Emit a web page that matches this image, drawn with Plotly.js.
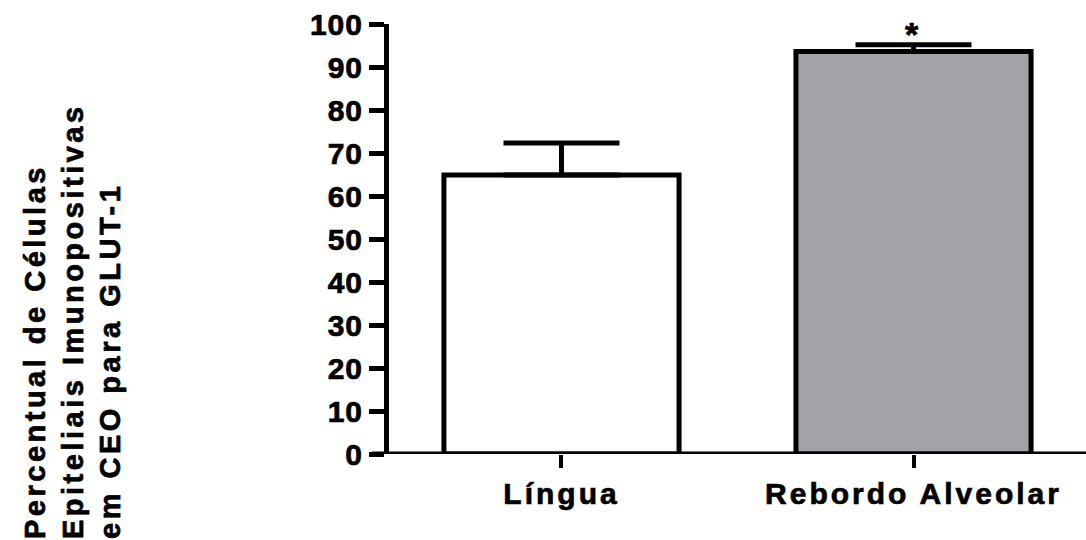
<!DOCTYPE html>
<html>
<head>
<meta charset="utf-8">
<script src="https://cdn.plot.ly/plotly-3.0.1.min.js"></script>
<style>
  html, body { margin: 0; padding: 0; background: #fff; }
  #chart { width: 1086px; height: 540px; }
  .xtick text { letter-spacing: 3px; stroke: #000; stroke-width: 0.7px; }
  .annotation-text { letter-spacing: 3.5px; stroke: #000; stroke-width: 0.7px; }
  .ytick text { letter-spacing: 1px; stroke: #000; stroke-width: 0.7px; }
</style>
</head>
<body>
<div id="chart"></div>
<script>
const categories = ["Língua", "Rebordo Alveolar"];
const means = [64.9, 93.6];
const errors = [7.4, 1.55];
const barColors = ["#ffffff", "#a3a2a7"];
const yTicks = [0, 10, 20, 30, 40, 50, 60, 70, 80, 90, 100];
const titleLines = ["Percentual de Células", "Epiteliais Imunopositivas", "em CEO para GLUT-1"];
const significance = ["", "*"];

const FONT = "Liberation Sans, Arial, Helvetica, sans-serif";

const trace = {
  type: "bar",
  x: [0, 1],
  y: means,
  width: 0.668,
  marker: { color: barColors, line: { color: "#000", width: 5 } },
  error_y: {
    type: "data",
    symmetric: false,
    array: errors,
    arrayminus: [0, 0],
    color: "#000",
    thickness: 5,
    width: 58
  },
  hoverinfo: "skip"
};

const annotations = [{
  text: titleLines.join("<br>"),
  textangle: -90,
  align: "left",
  xref: "paper", yref: "paper",
  x: (72 - 389) / 697, y: (454 - 541) / 430,
  xanchor: "center", yanchor: "bottom",
  showarrow: false,
  font: { family: FONT, size: 29, weight: 700, color: "#000" }
}];
significance.forEach((s, i) => {
  if (!s) return;
  annotations.push({
    text: s,
    x: i, y: means[i] + errors[i],
    xref: "x", yref: "y",
    yanchor: "bottom",
    yshift: -10,
    showarrow: false,
    font: { family: FONT, size: 34, weight: 700, color: "#000" }
  });
});

const layout = {
  width: 1086, height: 540,
  margin: { l: 389, r: 0, t: 24, b: 86, pad: 0 },
  paper_bgcolor: "#fff", plot_bgcolor: "#fff",
  showlegend: false,
  bargap: 0,
  xaxis: {
    range: [-0.49, 1.49],
    tickmode: "array",
    tickvals: [0, 1],
    ticktext: categories,
    ticks: "outside", ticklen: 13, tickwidth: 4, tickcolor: "#000",
    showline: false, showgrid: false, zeroline: false,
    tickfont: { family: FONT, size: 30, weight: 700, color: "#000" },
    fixedrange: true
  },
  yaxis: {
    range: [0, 100],
    tickmode: "array",
    tickvals: yTicks,
    ticktext: yTicks.map(String),
    ticks: "outside", ticklen: 15, tickwidth: 5, tickcolor: "#000",
    showline: true, linewidth: 5, linecolor: "#000",
    showgrid: false, zeroline: false,
    tickfont: { family: FONT, size: 30, weight: 700, color: "#000" },
    fixedrange: true
  },
  shapes: [{
    type: "line", xref: "paper", yref: "y",
    x0: (372 - 389) / 697, x1: 1, y0: 0, y1: 0,
    line: { color: "#000", width: 5 }
  }],
  annotations: annotations
};

Plotly.newPlot("chart", [trace], layout, { staticPlot: true, displayModeBar: false });
</script>
</body>
</html>
